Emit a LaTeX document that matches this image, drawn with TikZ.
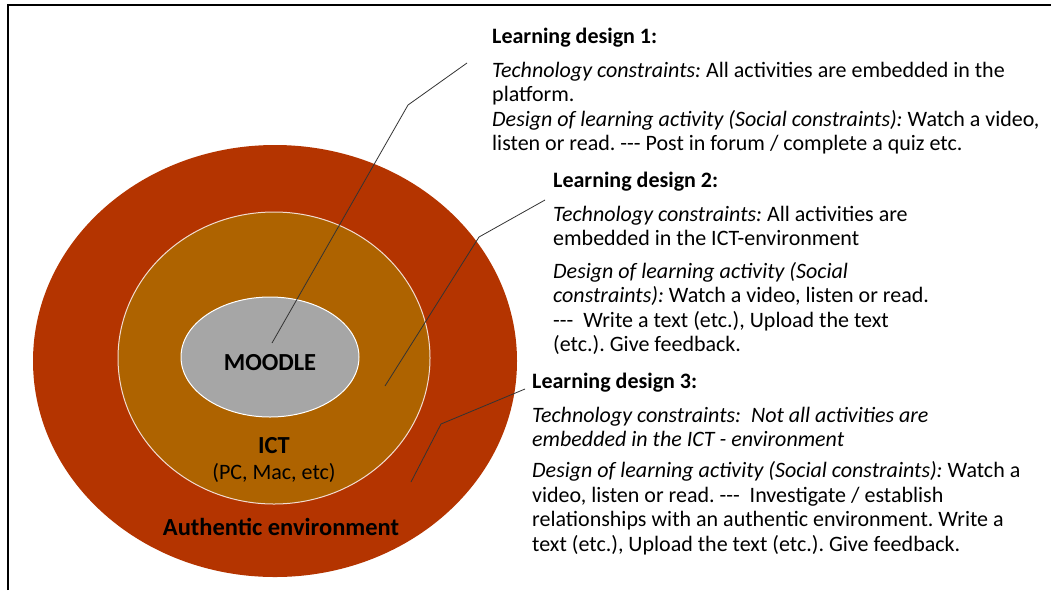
\documentclass[tikz,border=0pt]{standalone}
\usepackage{fontspec}
\setmainfont{Carlito}
\usetikzlibrary{shapes.geometric}

\definecolor{authred}{RGB}{180,52,0}
\definecolor{ictbrown}{RGB}{174,99,0}
\definecolor{moodlegrey}{RGB}{166,166,166}
\definecolor{rimpink}{RGB}{242,220,210}

\tikzset{
  ring/.style={ellipse, inner sep=0pt},
  ringlabel/.style={font=\fontsize{24.5}{28}\selectfont\bfseries},
  design/.style={anchor=north west, align=left, inner sep=0pt, font=\fontsize{22}{24.4}\selectfont\frenchspacing},
  leader/.style={black!80, line width=0.8pt}
}

\begin{document}
\begin{tikzpicture}[x=1pt,y=-1pt]
      \useasboundingbox (0,0) rectangle (1051,590);
      \draw[line width=2pt] (8,590) -- (8,5) -- (1051,5);

      % the three nested rings
      \node[ring, fill=authred, minimum width=484pt, minimum height=432pt] (authentic) at (275,361) {};
      \node[ring, fill=ictbrown, draw=rimpink, line width=1pt, minimum width=312pt, minimum height=292pt] (ict) at (274,358) {};
      \node[ring, fill=moodlegrey, draw=white, line width=1pt, minimum width=178pt, minimum height=120pt] (moodle) at (270,357) {};

      \node[ringlabel] (moodlelbl) at (270,363) {MOODLE};
      \node[ringlabel] (ictlbl) at (274,446) {ICT};
      \node[font=\fontsize{22}{24}\selectfont] (ictsub) at (274,473) {(PC, Mac, etc)};
      \node[ringlabel] (authlbl) at (281,527) {Authentic environment};

      % the three learning designs (top = title baseline - 17)
      \node[design] (design1) at (492,25.9) {\strut\textbf{Learning design 1:}\\[10pt]
        \textit{Technology constraints:} All activities are embedded in the\\
        platform.\\
        \textit{Design of learning activity (Social constraints):} Watch a video,\\
        listen or read. -{}-{}- Post in forum / complete a quiz etc.};
      \node[design] (design2) at (553,169.9) {\strut\textbf{Learning design 2:}\\[9.5pt]
        \textit{Technology constraints:} All activities are\\
        embedded in the ICT-environment\\[8.5pt]
        \textit{Design of learning activity (Social}\\
        \textit{constraints):} Watch a video, listen or read.\\
        -{}-{}-\ \ Write a text (etc.), Upload the text\\
        (etc.). Give feedback.};
      \node[design] (design3) at (532,370.9) {\strut\textbf{Learning design 3:}\\[9.5pt]
        \textit{Technology constraints:\ \ Not all activities are}\\
        \textit{embedded in the ICT - environment}\\[7pt]
        \textit{Design of learning activity (Social constraints):} Watch a\\
        video, listen or read. -{}-{}-\ \ Investigate / establish\\
        relationships with an authentic environment. Write a\\
        text (etc.), Upload the text (etc.). Give feedback.};

      % leader lines from the designs into the rings
      \coordinate (d1start) at (467,63);
      \coordinate (d1bend) at (408,105);
      \coordinate (d1end) at (272,343);
      \coordinate (d2start) at (545,200);
      \coordinate (d2bend) at (479,237);
      \coordinate (d2end) at (385,386);
      \coordinate (d3start) at (525,389);
      \coordinate (d3bend) at (441,424);
      \coordinate (d3end) at (411,482);
      \draw[leader] (d1start) -- (d1bend) -- (d1end);
      \draw[leader] (d2start) -- (d2bend) -- (d2end);
      \draw[leader] (d3start) -- (d3bend) -- (d3end);
    \end{tikzpicture}
\end{document}
